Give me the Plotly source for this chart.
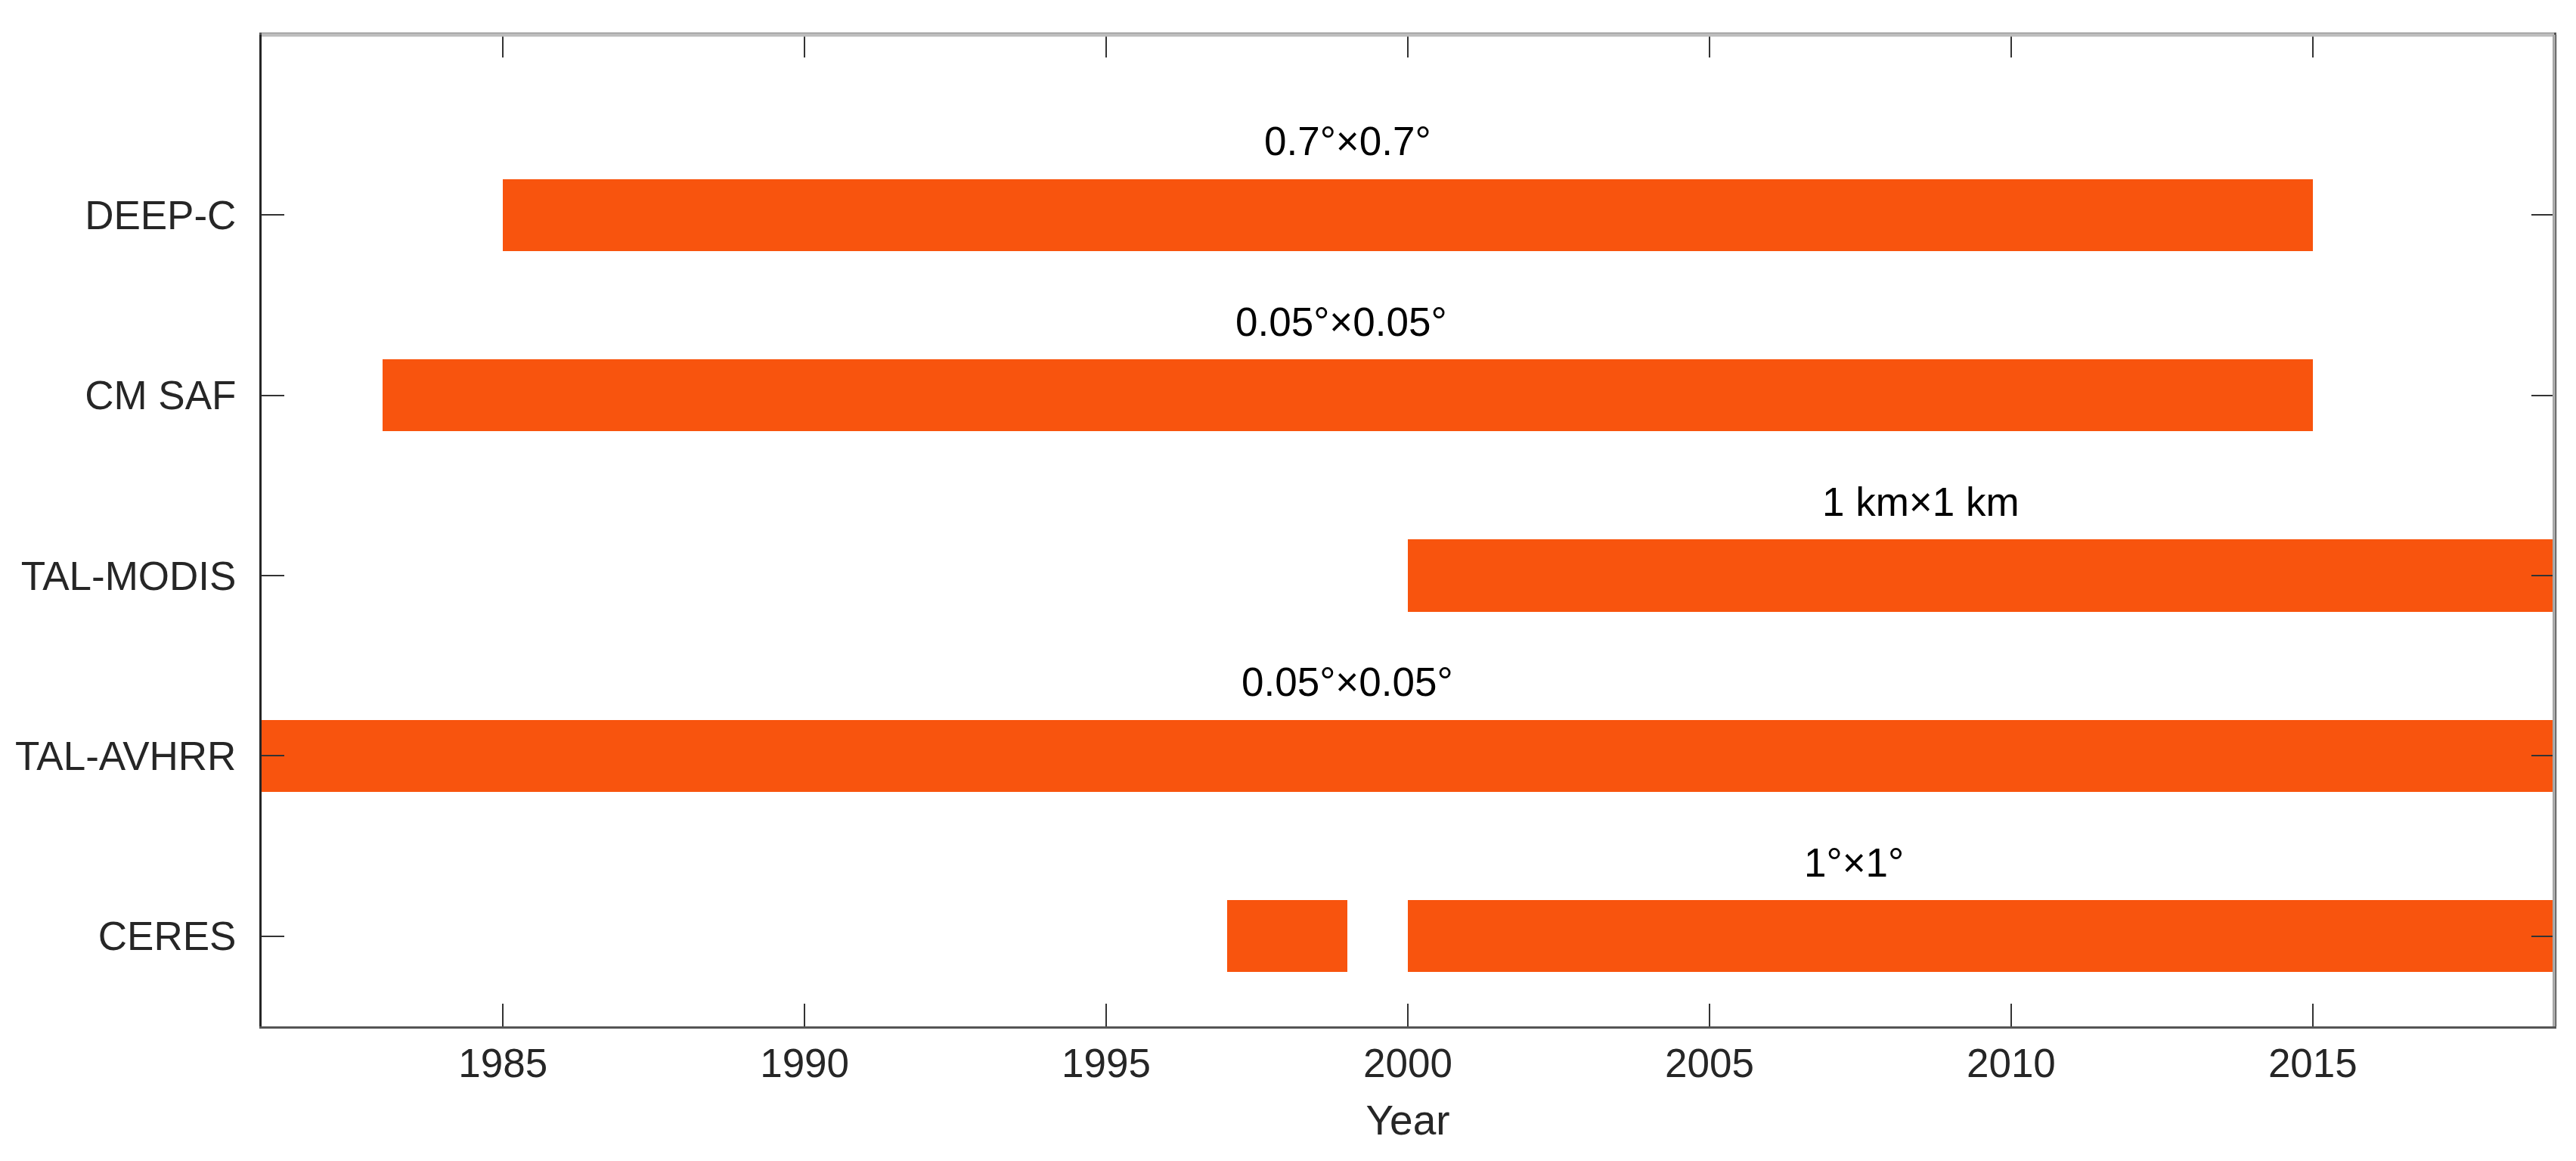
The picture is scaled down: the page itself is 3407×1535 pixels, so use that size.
import plotly.graph_objects as go

# ---- data ----
datasets = ["CERES", "TAL-AVHRR", "TAL-MODIS", "CM SAF", "DEEP-C"]
positions = [1, 2, 3, 4, 5]

seg_dataset = ["CERES", "CERES", "TAL-AVHRR", "TAL-MODIS", "CM SAF", "DEEP-C"]
seg_start = [1997, 2000, 1981, 2000, 1983, 1985]
seg_end = [1999, 2019, 2019, 2019, 2015, 2015]

res_labels = ["1°×1°", "0.05°×0.05°", "1 km×1 km", "0.05°×0.05°", "0.7°×0.7°"]
res_label_x = [2007.4, 1999.0, 2008.5, 1998.9, 1999.0]

x_ticks = [1985, 1990, 1995, 2000, 2005, 2010, 2015]

BAR_COLOR = "#F8540E"
FONT = "Liberation Sans, Arial, sans-serif"
TXT = "#262626"

pos_of = dict(zip(datasets, positions))

fig = go.Figure()
fig.add_trace(go.Bar(
    orientation="h",
    y=[pos_of[d] for d in seg_dataset],
    base=seg_start,
    x=[e - s for s, e in zip(seg_start, seg_end)],
    width=0.4,
    marker=dict(color=BAR_COLOR, line=dict(width=0)),
    showlegend=False,
    hoverinfo="skip",
))

for p, lab, lx in zip(positions, res_labels, res_label_x):
    fig.add_annotation(x=lx, y=p + 0.41, text=lab, showarrow=False,
                       xanchor="center", yanchor="middle",
                       font=dict(family=FONT, size=53, color="#000000"))

fig.update_layout(
    width=3407, height=1535,
    margin=dict(l=335, r=37, t=38, b=186, pad=0),
    paper_bgcolor="white", plot_bgcolor="white",
    font=dict(family=FONT, size=53, color=TXT),
    bargap=0,
)

fig.update_xaxes(
    range=[1981, 2019], tickvals=x_ticks, ticktext=[str(t) for t in x_ticks],
    ticks="inside", ticklen=30, tickwidth=2, tickcolor="#333333",
    showline=True, linecolor="#555555", linewidth=3, mirror="ticks",
    showgrid=False, zeroline=False,
    tickfont=dict(family=FONT, size=53, color=TXT),
    ticklabelstandoff=0,
    title=dict(text="Year", font=dict(family=FONT, size=55, color=TXT), standoff=28),
)
fig.update_yaxes(
    range=[0.5, 6.0], tickvals=positions, ticktext=datasets,
    ticks="inside", ticklen=30, tickwidth=2, tickcolor="#333333",
    showline=True, linecolor="#262626", linewidth=3, mirror="ticks",
    showgrid=False, zeroline=False,
    tickfont=dict(family=FONT, size=53, color=TXT),
    ticklabelstandoff=20,
)

# lighter top and right frame lines
fig.add_shape(type="line", xref="paper", yref="paper", x0=0, x1=1, y0=1, y1=1,
              line=dict(color="#BDBDBD", width=5), layer="above")
fig.add_shape(type="line", xref="paper", yref="paper", x0=1, x1=1, y0=0, y1=1,
              line=dict(color="#A8A8A8", width=4), layer="above")

fig.write_html("out.html")
